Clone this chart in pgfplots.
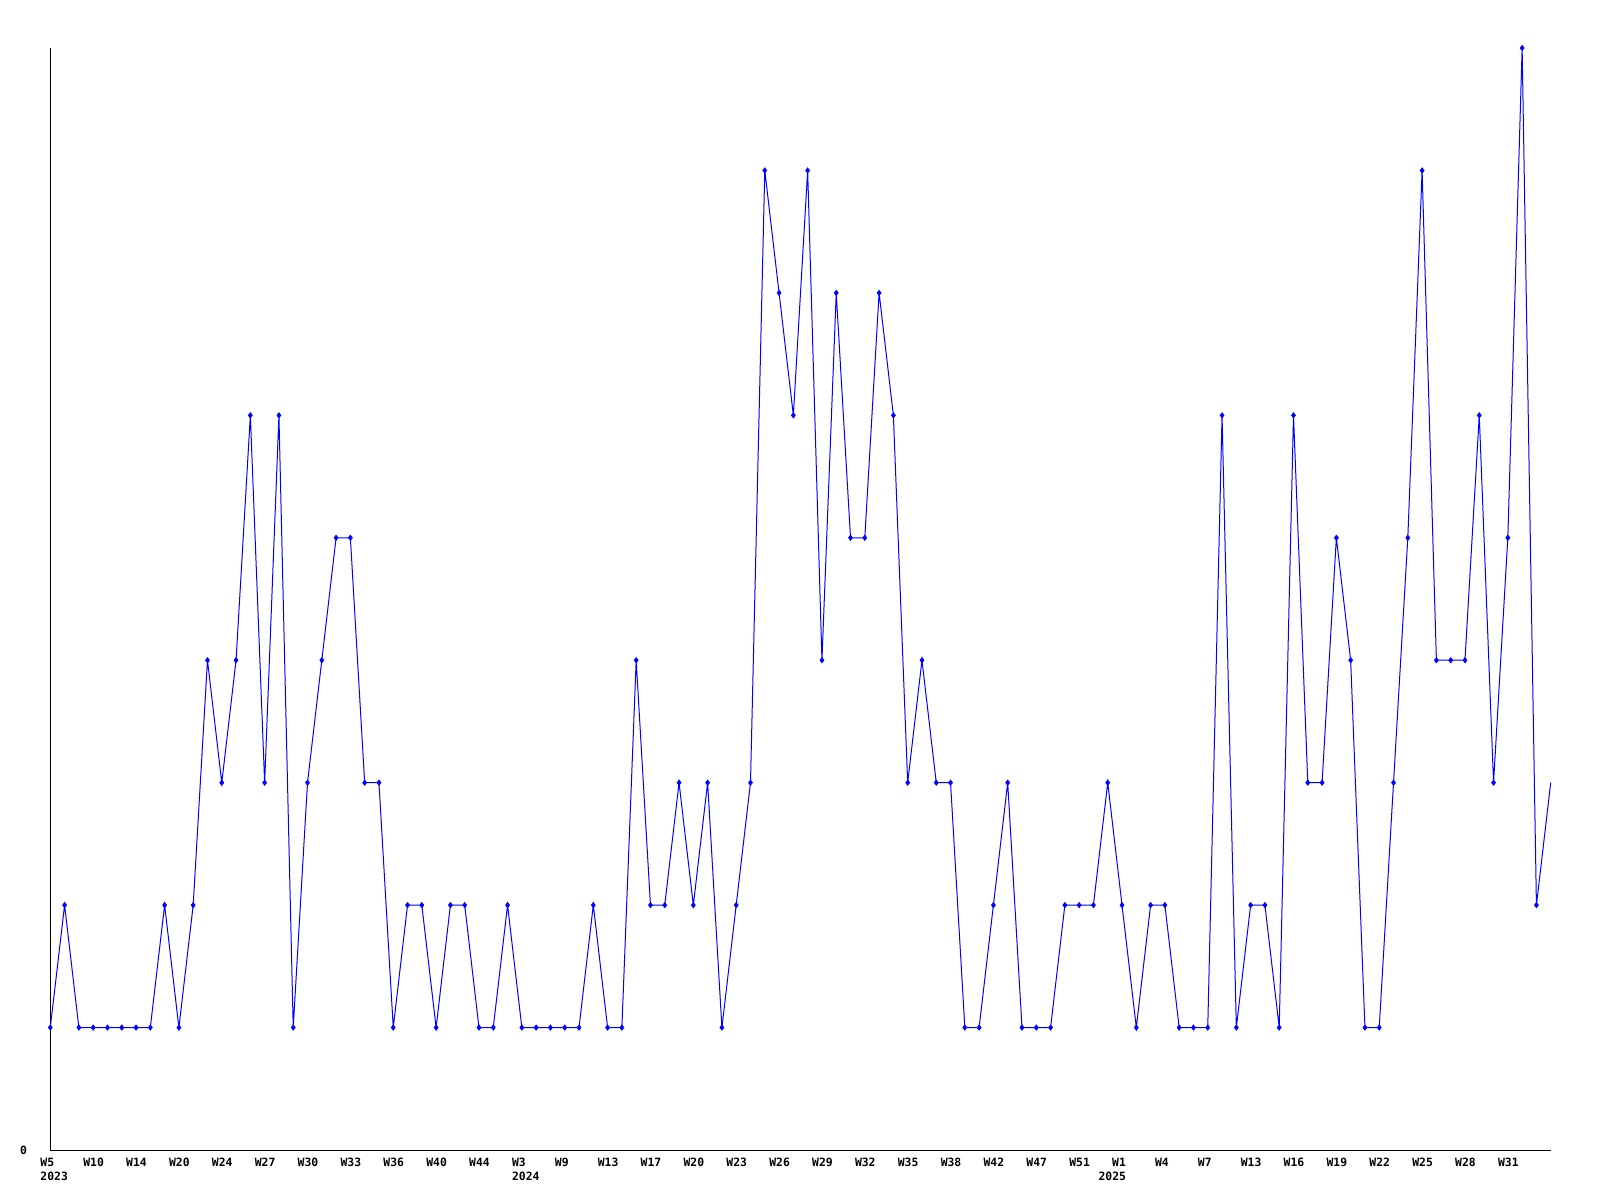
\documentclass[border=0pt]{standalone}
\usepackage{fontspec}
\setmonofont{DejaVu Sans Mono}
\usepackage{pgfplots}
\pgfplotsset{compat=1.18}
\newcommand{\lblfont}{\ttfamily\bfseries\fontsize{5.7}{7}\selectfont}
\begin{document}
\begin{tikzpicture}
\path[use as bounding box] (0,0) rectangle (800pt,600pt);
\begin{axis}[
  at={(25.15pt,25pt)}, anchor=south west,
  width=750.2pt, height=551pt, scale only axis,
  xmin=0, xmax=105, ymin=0, ymax=9,
  axis x line=bottom, axis y line=left,
  axis line style={-, black, line width=0.5pt},
  major tick length=0pt,
  ytick={0},
  xtick={0,3,...,102},
  xticklabels={{W5\\2023},W10,W14,W20,W24,W27,W30,W33,W36,W40,W44,{W3\\2024},W9,W13,W17,W20,W23,W26,W29,W32,W35,W38,W42,W47,W51,{W1\\\hspace*{-6.85pt}2025},W4,W7,W13,W16,W19,W22,W25,W28,W31},
  xticklabel style={font=\lblfont, anchor=north west, align=left, inner sep=0pt, xshift=-5.1pt, yshift=-4pt},
  yticklabel style={font=\lblfont, anchor=east, inner sep=0pt, xshift=-11.5pt},
  /pgf/number format/assume math mode=true,
  clip=false,
]
\addplot[blue, line width=0.5pt, mark=diamond*, mark size=1.2pt, mark options={solid, fill=blue}] coordinates {
(0,1)(1,2)(2,1)(3,1)(4,1)(5,1)(6,1)(7,1)(8,2)(9,1)
(10,2)(11,4)(12,3)(13,4)(14,6)(15,3)(16,6)(17,1)(18,3)(19,4)
(20,5)(21,5)(22,3)(23,3)(24,1)(25,2)(26,2)(27,1)(28,2)(29,2)
(30,1)(31,1)(32,2)(33,1)(34,1)(35,1)(36,1)(37,1)(38,2)(39,1)
(40,1)(41,4)(42,2)(43,2)(44,3)(45,2)(46,3)(47,1)(48,2)(49,3)
(50,8)(51,7)(52,6)(53,8)(54,4)(55,7)(56,5)(57,5)(58,7)(59,6)
(60,3)(61,4)(62,3)(63,3)(64,1)(65,1)(66,2)(67,3)(68,1)(69,1)
(70,1)(71,2)(72,2)(73,2)(74,3)(75,2)(76,1)(77,2)(78,2)(79,1)
(80,1)(81,1)(82,6)(83,1)(84,2)(85,2)(86,1)(87,6)(88,3)(89,3)
(90,5)(91,4)(92,1)(93,1)(94,3)(95,5)(96,8)(97,4)(98,4)(99,4)
(100,6)(101,3)(102,5)(103,9)(104,2)
};
\addplot[blue, line width=0.5pt, no marks] coordinates {(104,2)(105,3)};
\end{axis}
\end{tikzpicture}
\end{document}
